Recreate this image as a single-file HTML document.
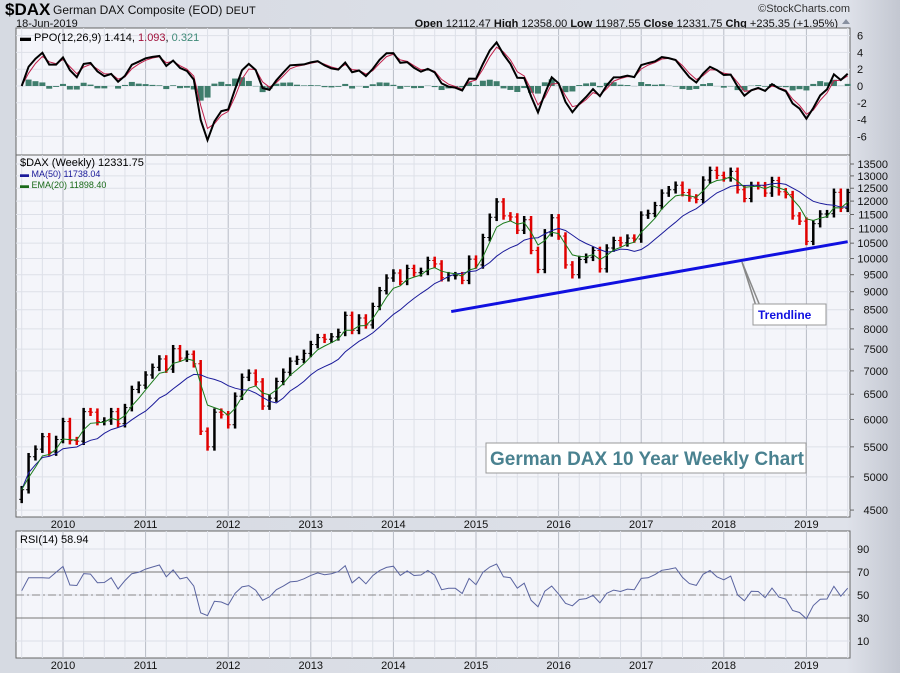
<!DOCTYPE html>
<html><head><meta charset="utf-8"><style>
body{margin:0;width:900px;height:673px;overflow:hidden;background:#d9dce4;font-family:"Liberation Sans",sans-serif;position:relative}
svg{display:block}
#c{position:absolute;left:0;top:0}
</style></head><body>
<svg id="c" width="900" height="673" xmlns="http://www.w3.org/2000/svg">
<defs><linearGradient id="bg" x1="0" x2="1"><stop offset="0" stop-color="#d6dae2"/><stop offset="0.94" stop-color="#dfe2ea"/><stop offset="1" stop-color="#c3c7d1"/></linearGradient></defs>
<rect width="900" height="673" fill="url(#bg)"/>
<text x="5" y="15" font-size="17" font-weight="bold" fill="#000">$DAX</text>
<text x="53" y="14" font-size="12" fill="#111">German DAX Composite (EOD) <tspan font-size="11">DEUT</tspan></text>
<text x="16" y="27" font-size="11" fill="#111">18-Jun-2019</text>
<text x="850" y="12" font-size="11" text-anchor="end" fill="#333">©StockCharts.com</text>
<text x="838" y="27" font-size="11" text-anchor="end" fill="#111"><tspan font-weight="bold">Open</tspan> 12112.47 <tspan font-weight="bold">High</tspan> 12358.00 <tspan font-weight="bold">Low</tspan> 11987.55 <tspan font-weight="bold">Close</tspan> 12331.75 <tspan font-weight="bold">Chg</tspan> +235.35 (+1.95%)</text>
<polygon points="842,24 850,24 846,19" fill="#8890a0"/>
<g id="g"></g>
</svg>
<script>
const closes=[4800,5330,5460,5680,5410,5630,5960,
5610,5600,6150,6140,5960,5970,6150,5920,6230,6600,6690,6910,
7080,7270,7040,7510,7290,7380,7160,5780,5500,6140,6090,5900,
6460,6860,6950,6760,6260,6420,6770,6970,7220,7260,7400,7610,
7780,7740,7800,7910,8350,7960,8280,8100,8590,9030,9400,9550,
9300,9690,9560,9600,9940,9830,9410,9470,9470,9330,9980,9800,
10690,11400,11970,11450,11410,10940,11310,10260,9660,10850,11380,10740,
9800,9500,9970,10040,10260,9680,10340,10590,10510,10670,10640,11480,
11540,11830,12310,12440,12620,12330,12120,12060,12830,13230,13020,12920,
13190,12440,12100,12610,12600,12310,12810,12360,12250,11450,11260,10560,
11170,11520,11530,12340,11730,12331.75];
const startYear=2009.5;
const priceTicks=[4500,5000,5500,6000,6500,7000,7500,8000,8500,9000,9500,10000,10500,11000,11500,12000,12500,13000,13500];
const ppoTicks=[6,4,2,0,-2,-4,-6];
const rsiTicks=[90,70,50,30,10];
const years=[2010,2011,2012,2013,2014,2015,2016,2017,2018,2019];
const trendline=[[2014.7,8450],[2019.5,10550]];

const NS="http://www.w3.org/2000/svg",G=document.getElementById('g');
function el(t,a,p){const e=document.createElementNS(NS,t);for(const k in a)e.setAttribute(k,a[k]);(p||G).appendChild(e);return e;}
const L=16,R=850;
const X=t=>63+(t-2010)*82.6;
const tOf=i=>startYear+i/12;
const PY=v=>164+(Math.log(13500)-Math.log(v))*315;
const OY=v=>86-v*8.4;
const RY=v=>595-(v-50)*1.15;
[[28,155,'ppo-panel'],[155,517,'price-panel'],[531,658,'rsi-panel']].forEach(p=>{
 const r=el('rect',{x:L,y:p[0],width:R-L,height:p[1]-p[0],fill:'#f4f5fa',stroke:'#666'});
 
 for(let t=2009.5;t<2019.6;t+=0.25){const x=X(t);if(x>L&&x<R){const yr=Math.abs(t-Math.round(t))<0.01;
  el('line',{x1:x,x2:x,y1:p[0],y2:p[1],stroke:yr?'#b8bcc6':'#dde0e8'});}}
});
priceTicks.forEach(v=>{const y=PY(v);el('line',{x1:L,x2:R,y1:y,y2:y,stroke:'#dde0e8'});
 const t=el('text',{x:888,y:y+4,'font-size':11,'text-anchor':'end',fill:'#111'});t.textContent=v;
 
 el('line',{x1:R,x2:R+4,y1:y,y2:y,stroke:'#666'});});
ppoTicks.forEach(v=>{const y=OY(v);el('line',{x1:L,x2:R,y1:y,y2:y,stroke:'#dde0e8'});
 const t=el('text',{x:857,y:y+4,'font-size':11,fill:'#111'});t.textContent=v;
 });
rsiTicks.forEach(v=>{const y=RY(v);el('line',{x1:L,x2:R,y1:y,y2:y,stroke:(v==70||v==30)?'#777':'#dde0e8'});
 if(v==50)el('line',{x1:L,x2:R,y1:y,y2:y,stroke:'#888','stroke-dasharray':'8,3,2,3'});
 const t=el('text',{x:857,y:y+4,'font-size':11,fill:'#111'});t.textContent=v;
 });
years.forEach(yv=>{[524,665].forEach(yy=>{const t=el('text',{x:X(yv),y:yy+4,'font-size':11,'text-anchor':'middle',fill:'#111'});t.textContent=yv;
 });});
function ema(a,n){const k=2/(n+1);let o=[],e=a[0];a.forEach((v,i)=>{e=i?v*k+e*(1-k):v;o.push(e)});return o;}
const ma=closes.map((v,i)=>{const s=closes.slice(Math.max(0,i-11),i+1);return s.reduce((a,b)=>a+b,0)/s.length;});
const em=ema(closes,4.6);
const e3=ema(closes,3),e6=ema(closes,6);
const ppo=e3.map((v,i)=>(v/e6[i]-1)*100);
const sig=ema(ppo,2);
let ag=0,al=0;const rsi=closes.map((v,i)=>{if(!i)return 55;const d=v-closes[i-1];ag=(ag*6+Math.max(d,0))/7;al=(al*6+Math.max(-d,0))/7;return al?100-100/(1+ag/al):70;}).map(v=>50+(v-50)*0.75);
function line(arr,fx,fy,col,w,name){const p=el('polyline',{points:arr.map((v,i)=>fx(i).toFixed(1)+','+fy(v).toFixed(1)).join(' '),fill:'none',stroke:col,'stroke-width':w});
 }
closes.forEach((c,i)=>{const o=i?closes[i-1]:c*0.97;const hi=Math.max(o,c)*1.012,lo=Math.min(o,c)*0.988;const x=X(tOf(i));const col=c>=o?'#000':'#e00000';
 const b=el('line',{x1:x,x2:x,y1:PY(hi),y2:PY(lo),stroke:col,'stroke-width':2.5});
 
 el('line',{x1:x-2.5,x2:x,y1:PY(o),y2:PY(o),stroke:col});el('line',{x1:x,x2:x+2.5,y1:PY(c),y2:PY(c),stroke:col});});
line(ma,i=>X(tOf(i)),PY,'#1a1a9a',1,'ma50-line');
line(em,i=>X(tOf(i)),PY,'#1a7a1a',1,'ema20-line');
ppo.forEach((v,i)=>{const h=v-sig[i];const b=el('rect',{x:X(tOf(i))-3,y:Math.min(OY(0),OY(h)),width:6,height:Math.abs(OY(h)-OY(0)),fill:'#3f7d6c'});
 });
line(sig,i=>X(tOf(i)),OY,'#c0204a',1,'ppo-signal-line');
line(ppo,i=>X(tOf(i)),OY,'#000',2,'ppo-line');
line(rsi,i=>X(tOf(i)),RY,'#5a64a0',1,'rsi-line');
const tl=el('line',{x1:X(trendline[0][0]),y1:PY(trendline[0][1]),x2:X(trendline[1][0]),y2:PY(trendline[1][1]),stroke:'#1010e0','stroke-width':3});

</script>
<svg style="position:absolute;left:0;top:0" width="900" height="673" xmlns="http://www.w3.org/2000/svg">
<line x1="742" y1="262" x2="756" y2="306" stroke="#888" stroke-width="1.5"/><line x1="742" y1="262" x2="760" y2="306" stroke="#888" stroke-width="1.5"/>
<rect x="753" y="304" width="73" height="21" fill="#fff" stroke="#999"/>
<text x="758" y="319" font-size="12" font-weight="bold" fill="#1010e0">Trendline</text>
<rect x="486" y="443" width="320" height="30" fill="#fff" stroke="#999"/>
<text x="490" y="465" font-size="19" font-weight="bold" fill="#4a8290">German DAX 10 Year Weekly Chart</text>
<text x="20" y="41" font-size="11" fill="#000">▬ PPO(12,26,9) 1.414, <tspan fill="#a0103a">1.093</tspan>, <tspan fill="#3f8a78">0.321</tspan></text>
<text x="20" y="166" font-size="11" fill="#000">$DAX (Weekly) 12331.75</text>
<text x="20" y="177" font-size="9" fill="#1a1a9a">▬ MA(50) 11738.04</text>
<text x="20" y="188" font-size="9" fill="#1a6a1a">▬ EMA(20) 11898.40</text>
<text x="20" y="543" font-size="11" fill="#000">RSI(14) 58.94</text>
</svg>
</body></html>
